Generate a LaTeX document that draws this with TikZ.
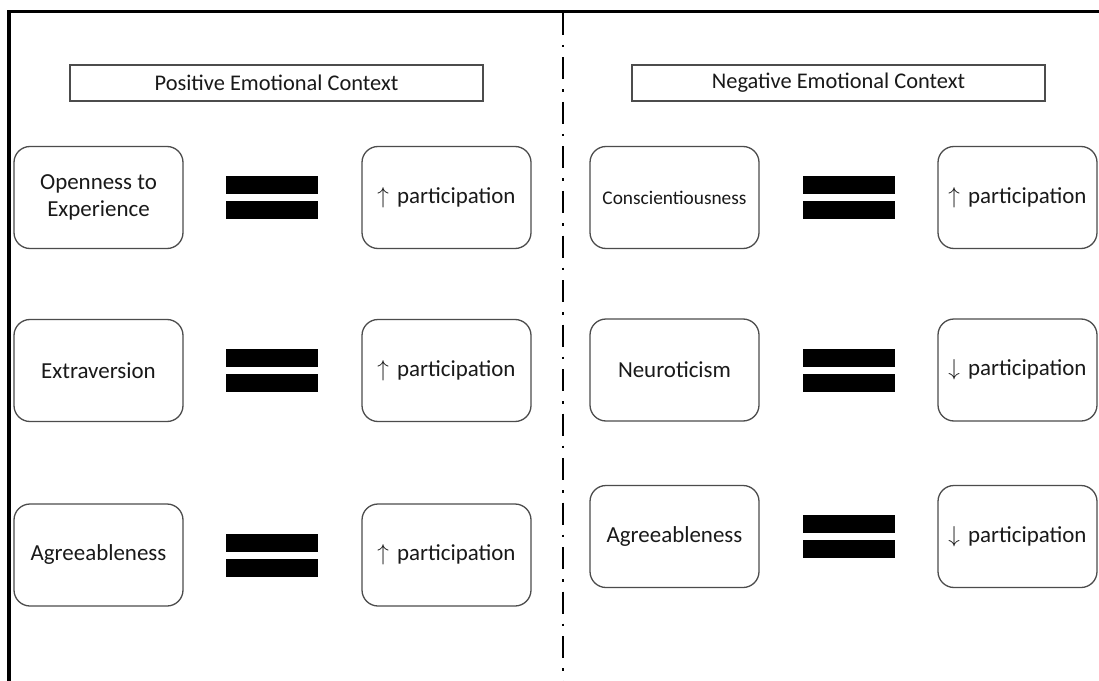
\documentclass[tikz,border=0pt]{standalone}
\usepackage{fontspec}
\setmainfont{Carlito}
\newcommand\pxu{0.75pt}
\newcommand\upar{{\fontsize{18.5}{20}\selectfont$\uparrow$}\hspace{6pt}}
\newcommand\downar{{\fontsize{18.5}{20}\selectfont$\downarrow$}\hspace{6pt}}
\begin{document}
\begin{tikzpicture}[x=0.75pt,y=-0.75pt,
  every node/.style={inner sep=0pt, outer sep=0pt, text=black!90},
  titlebox/.style={draw=black!70, line width=1.3*\pxu, minimum height=36*\pxu,
    font=\fontsize{16.8}{20}\selectfont},
  trait/.style={draw=black!70, line width=1.3*\pxu, rounded corners=12pt,
    minimum width=169*\pxu, minimum height=102*\pxu, align=center,
    font=\fontsize{17.2}{20.3}\selectfont},
  outcome/.style={trait},
  bar/.style={fill=black, minimum width=92*\pxu, minimum height=18*\pxu},
  frame/.style={line width=3.5*\pxu, line join=miter},
  divider/.style={line width=2.8*\pxu,
    dash pattern=on 22*\pxu off 10*\pxu on 2.5*\pxu off 10*\pxu}]
\useasboundingbox (0,0) rectangle (1099,681);
\fill[white] (0,0) rectangle (1099,681);

% outer frame and the dash-dot divider between the two contexts
\coordinate (fbl) at (9,681);
\coordinate (ftl) at (9,11.7);
\coordinate (ftr) at (1099,11.7);
\draw[frame] (fbl) -- (ftl) -- (ftr);
\coordinate (dtop) at (563,13);
\coordinate (dbot) at (563,681);
\draw[divider] (dtop) -- (dbot);

% context headings
\node[titlebox, minimum width=413*\pxu] (posT) at (276.5,83) {Positive Emotional Context};
\node[titlebox, minimum width=413*\pxu] (negT) at (838.5,83) {Negative Emotional Context};

% equality sign made of two bars
\newcommand\equalsign[3]{%
  \node[bar] (#1a) at (#2,#3-12.5) {};
  \node[bar] (#1b) at (#2,#3+12.5) {};}

% positive context
\node[trait] (open) at (98.5,197.5) {Openness to\\Experience};
\equalsign{eqA}{272}{197.5}
\node[outcome] (outA) at (446.5,197.5) {\upar participation};

\node[trait] (extra) at (98.5,370.5) {Extraversion};
\equalsign{eqB}{272}{370.5}
\node[outcome] (outB) at (446.5,370.5) {\upar participation};

\node[trait] (agreeP) at (98.5,555) {Agreeableness};
\equalsign{eqC}{272}{555}
\node[outcome] (outC) at (446.5,555) {\upar participation};

% negative context
\node[trait, font=\fontsize{14.5}{18}\selectfont] (consc) at (674.5,197.5) {Conscientiousness};
\equalsign{eqD}{849}{197.5}
\node[outcome, minimum width=159*\pxu] (outD) at (1017.5,197.5) {\upar participation};

\node[trait] (neuro) at (674.5,370) {Neuroticism};
\equalsign{eqE}{849}{370}
\node[outcome, minimum width=159*\pxu] (outE) at (1017.5,370) {\downar participation};

\node[trait] (agreeN) at (674.5,536.5) {Agreeableness};
\equalsign{eqF}{849}{536.5}
\node[outcome, minimum width=159*\pxu] (outF) at (1017.5,536.5) {\downar participation};
\end{tikzpicture}
\end{document}
